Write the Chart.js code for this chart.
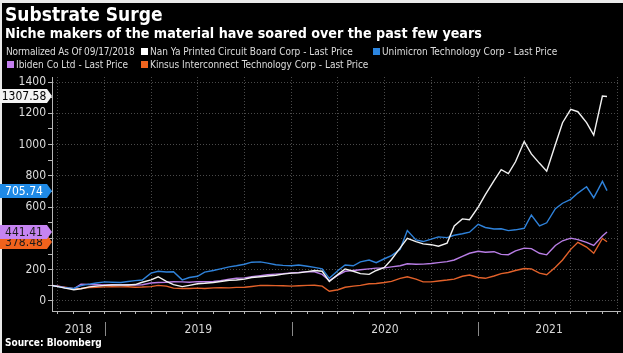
<!DOCTYPE html>
<html>
<head>
<meta charset="utf-8">
<script src="https://cdn.jsdelivr.net/npm/chart.js@4.4.1/dist/chart.umd.min.js"></script>
<style>
  html, body { margin: 0; padding: 0; background: #e9e9e9; }
  #frame { position: absolute; left: 2px; top: 3px; width: 621px; height: 350px; background: #000; }
  #wrap { position: absolute; left: 0; top: 0; width: 623px; height: 353px; }
  .txt { position: absolute; white-space: nowrap; color: #fff; }
  .title { left: 5px; top: 3px; line-height: 22px; font: bold 19px "DejaVu Sans Condensed", "DejaVu Sans", sans-serif; }
  .sub { left: 5px; top: 25px; line-height: 16px; font: bold 14.2px "DejaVu Sans Condensed", "DejaVu Sans", sans-serif; }
  .leg { line-height: 13px; font: 10px "Liberation Sans Narrow", "DejaVu Sans Condensed", sans-serif; color: #ddd; }
  .leg i { display: inline-block; width: 7px; height: 7px; margin-right: 2px; vertical-align: 0px; }
  .src { left: 5px; top: 337px; line-height: 12px; font: bold 10px "DejaVu Sans Condensed", "DejaVu Sans", sans-serif; }
</style>
</head>
<body>
<div id="frame"></div>
<div id="wrap"><canvas id="chart" width="623" height="353"></canvas></div>
<div class="txt title">Substrate Surge</div>
<div class="txt sub">Niche makers of the material have soared over the past few years</div>
<div class="txt leg" style="left:6px;top:46px;letter-spacing:-0.15px">Normalized As Of 09/17/2018</div>
<div class="txt leg" style="left:141px;top:46px"><i style="background:#fff"></i>Nan Ya Printed Circuit Board Corp - Last Price</div>
<div class="txt leg" style="left:373px;top:46px"><i style="background:#2b85e0"></i>Unimicron Technology Corp - Last Price</div>
<div class="txt leg" style="left:7px;top:59px"><i style="background:#c47ff0"></i>Ibiden Co Ltd - Last Price</div>
<div class="txt leg" style="left:141px;top:59px"><i style="background:#f0641e"></i>Kinsus Interconnect Technology Corp - Last Price</div>
<div class="txt src">Source: Bloomberg</div>
<script>
// dates of the readings (normalized to 100 on 09/17/2018)
const dates = [
  "2018-09-17", "2018-10-01", "2018-10-15", "2018-11-01", "2018-11-15", "2018-12-01", "2018-12-15",
  "2019-01-01", "2019-01-15", "2019-02-01", "2019-02-15", "2019-03-01", "2019-03-15", "2019-04-01", "2019-04-15",
  "2019-05-01", "2019-05-15", "2019-06-01", "2019-06-15", "2019-07-01", "2019-07-15", "2019-08-01", "2019-08-15",
  "2019-09-01", "2019-09-15", "2019-10-01", "2019-10-15", "2019-11-01", "2019-11-15", "2019-12-01", "2019-12-15",
  "2020-01-01", "2020-01-15", "2020-02-01", "2020-02-15", "2020-03-01", "2020-03-15", "2020-04-01", "2020-04-15",
  "2020-05-01", "2020-05-15", "2020-06-01", "2020-06-15", "2020-07-01", "2020-07-15", "2020-08-01", "2020-08-15",
  "2020-09-01", "2020-09-15", "2020-10-01", "2020-10-15", "2020-11-01", "2020-11-15", "2020-12-01", "2020-12-15",
  "2021-01-01", "2021-01-15", "2021-02-01", "2021-02-15", "2021-03-01", "2021-03-15", "2021-04-01", "2021-04-15",
  "2021-05-01", "2021-05-15", "2021-06-01", "2021-06-15", "2021-07-01", "2021-07-15", "2021-08-01", "2021-08-15",
  "2021-09-01", "2021-09-10"
];

const nanYa = [
  100, 92, 82, 72, 78, 90, 95,
  100, 102, 103, 102, 105, 120, 135, 155, 125, 105, 92, 100, 110, 113, 118, 125, 133, 134, 140, 150, 155, 160, 165, 172,
  178, 180, 188, 195, 190, 125, 170, 205, 190, 175, 170, 195, 215, 265, 340, 400, 380, 365, 360, 350, 370, 480, 525, 520,
  600, 680, 770, 840, 815, 890, 1020, 940, 880, 830, 1000, 1140, 1225, 1210, 1140, 1060, 1310, 1307.58
];
const unimicron = [
  100, 92, 85, 80, 98, 108, 115,
  122, 120, 118, 125, 130, 134, 178, 190, 185, 187, 135, 150, 158, 185, 195, 205, 218, 225, 235, 248, 250, 242, 232, 228,
  225, 230, 222, 215, 205, 145, 195, 230, 225, 250, 262, 245, 270, 290, 330, 450, 390, 380, 395, 410, 405, 420, 430, 440,
  490, 470, 460, 462, 450, 455, 465, 550, 480, 500, 590, 625, 650, 690, 730, 660, 765, 705.74
];
const ibiden = [
  100, 95, 85, 78, 108, 105, 104,
  102, 104, 103, 104, 102, 104, 115, 118, 120, 123, 122, 120, 124, 123, 125, 130, 140, 145, 148, 155, 162, 168, 172, 175,
  180, 183, 188, 187, 170, 130, 165, 190, 195, 200, 205, 210, 212, 218, 225, 238, 235, 236, 240, 245, 252, 262, 285, 305,
  318, 312, 315, 298, 296, 320, 338, 335, 305, 295, 355, 385, 402, 392, 375, 355, 415, 441.41
];
const kinsus = [
  100, 95, 88, 78, 80, 86, 88,
  90, 92, 90, 91, 88, 89, 92, 100, 95, 82, 80, 80, 82, 80, 84, 85, 84, 87, 88, 93, 100, 99, 98, 97,
  95, 97, 100, 101, 95, 62, 72, 88, 95, 100, 110, 112, 118, 125, 145, 155, 140, 122, 122, 128, 134, 140, 158, 166,
  150, 145, 160, 175, 182, 195, 208, 205, 178, 168, 215, 262, 330, 375, 345, 305, 400, 378.48
];

const seriesNames = [
  "Nan Ya Printed Circuit Board Corp - Last Price",
  "Unimicron Technology Corp - Last Price",
  "Ibiden Co Ltd - Last Price",
  "Kinsus Interconnect Technology Corp - Last Price"
];
const yearLabels = ["2018", "2019", "2020", "2021"];
const yTickValues = [0, 200, 400, 600, 800, 1000, 1200, 1400];

const X_MIN = 2018.716;
const X_MAX = 2021.76;

// "YYYY-MM-DD" -> fractional year
function toYear(s) {
  const [y, m, d] = s.split("-").map(Number);
  const start = Date.UTC(y, 0, 1);
  const len = Date.UTC(y + 1, 0, 1) - start;
  return y + (Date.UTC(y, m - 1, d) - start) / len;
}

function points(values) {
  return values.map((v, i) => ({ x: toYear(dates[i]), y: v }));
}

// monthly tick marks, every third month gets a grid line
function monthTicks() {
  const ticks = [];
  for (let y = 2018; y <= 2021; y++) {
    for (let m = 1; m <= 12; m++) {
      const v = toYear(`${y}-${String(m).padStart(2, "0")}-01`);
      if (v >= X_MIN && v <= X_MAX) ticks.push({ value: v, quarter: (m - 1) % 3 === 0 });
    }
  }
  return ticks;
}

const GRID = "#4a4a4a";
const AXIS = "#b8b8b8";
const AXIS_FONT = "'Liberation Sans Narrow', 'DejaVu Sans Condensed', sans-serif";

const tags = [
  { idx: 0, fill: "#f4f4f4", text: "#000" },
  { idx: 1, fill: "#1f8ae6", text: "#fff" },
  { idx: 3, fill: "#f0621c", text: "#1a1a1a" },
  { idx: 2, fill: "#c684f2", text: "#1a1a1a" }
];

const overlayPlugin = {
  id: "overlay",
  afterDraw(chart) {
    const ctx = chart.ctx;
    const xs = chart.scales.x;
    const ys = chart.scales.y;

    // year labels centred in their part of the axis, with separators
    ctx.save();
    ctx.font = "12px " + AXIS_FONT;
    ctx.fillStyle = "#d8d8d8";
    ctx.textAlign = "center";
    ctx.textBaseline = "middle";
    yearLabels.forEach((lab) => {
      const y0 = Number(lab);
      const a = Math.max(y0, X_MIN);
      const b = Math.min(y0 + 1, X_MAX);
      const cx = (xs.getPixelForValue(a) + xs.getPixelForValue(b)) / 2;
      ctx.fillText(lab, cx, 330);
      if (y0 + 1 < X_MAX) {
        const px = Math.round(xs.getPixelForValue(y0 + 1)) + 0.5;
        ctx.strokeStyle = "#8a8a8a";
        ctx.lineWidth = 1;
        ctx.beginPath();
        ctx.moveTo(px, 322);
        ctx.lineTo(px, 336);
        ctx.stroke();
      }
    });
    ctx.restore();

    // last value tags on the left
    ctx.save();
    ctx.font = "12px " + AXIS_FONT;
    ctx.textAlign = "center";
    ctx.textBaseline = "middle";
    tags.forEach((t) => {
      const data = chart.data.datasets[t.idx].data;
      const v = data[data.length - 1].y;
      const py = Math.round(ys.getPixelForValue(v));
      ctx.fillStyle = t.fill;
      ctx.beginPath();
      ctx.moveTo(0, py - 7);
      ctx.lineTo(47, py - 7);
      ctx.lineTo(52, py);
      ctx.lineTo(47, py + 7);
      ctx.lineTo(0, py + 7);
      ctx.closePath();
      ctx.fill();
      ctx.fillStyle = t.text;
      ctx.fillText(v.toFixed(2), 24, py + 0.5);
    });
    ctx.restore();
  }
};

const colors = ["#f2f2f2", "#2f82da", "#b97ee6", "#e2612a"];
const allSeries = [nanYa, unimicron, ibiden, kinsus];

new Chart(document.getElementById("chart"), {
  type: "line",
  data: {
    datasets: allSeries.map((vals, i) => ({
      label: seriesNames[i],
      data: points(vals),
      borderColor: colors[i],
      borderWidth: 1.4,
      pointRadius: 0,
      tension: 0,
      fill: false
    }))
  },
  options: {
    responsive: false,
    animation: false,
    events: [],
    layout: { padding: { left: 0, top: 77, right: 3, bottom: 0 } },
    plugins: { legend: { display: false }, tooltip: { enabled: false }, title: { display: false } },
    scales: {
      x: {
        type: "linear",
        min: X_MIN,
        max: X_MAX,
        afterBuildTicks: (axis) => { axis.ticks = monthTicks(); },
        afterFit: (axis) => { axis.height = 42; },
        ticks: { callback: () => "", autoSkip: false, maxRotation: 0 },
        grid: {
          color: (c) => (c.tick && c.tick.quarter ? GRID : "rgba(0,0,0,0)"),
          tickColor: AXIS,
          tickLength: 3,
          lineWidth: 1
        },
        border: { display: true, color: AXIS, width: 1, dash: [1, 2] }
      },
      y: {
        min: -64,
        max: 1432,
        afterBuildTicks: (axis) => {
          const t = [];
          yTickValues.forEach((v, i) => {
            t.push({ value: v });
            if (i < yTickValues.length - 1) t.push({ value: v + 100 });
          });
          axis.ticks = t;
        },
        afterFit: (axis) => { axis.width = 52; },
        ticks: {
          color: "#dcdcdc",
          font: { size: 12, family: AXIS_FONT },
          padding: 2,
          autoSkip: false,
          callback: (v) => (yTickValues.includes(v) ? String(v) : "")
        },
        grid: {
          color: (c) => (c.tick && yTickValues.includes(c.tick.value) ? GRID : "rgba(0,0,0,0)"),
          tickColor: AXIS,
          tickLength: 4,
          lineWidth: 1
        },
        border: { display: true, color: AXIS, width: 1, dash: [1, 2] }
      }
    }
  },
  plugins: [overlayPlugin]
});
</script>
</body>
</html>
